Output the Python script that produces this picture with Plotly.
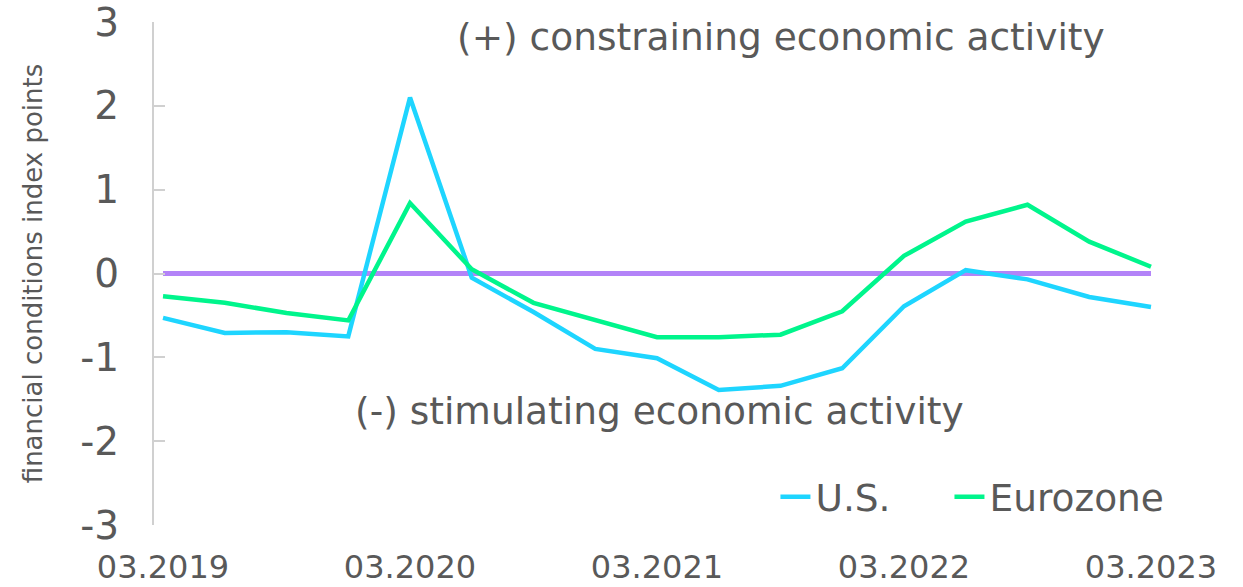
import plotly.graph_objects as go

quarters = ["03.2019", "06.2019", "09.2019", "12.2019",
            "03.2020", "06.2020", "09.2020", "12.2020",
            "03.2021", "06.2021", "09.2021", "12.2021",
            "03.2022", "06.2022", "09.2022", "12.2022",
            "03.2023"]
us = [-0.53, -0.71, -0.70, -0.75, 2.10, -0.05, -0.46, -0.90, -1.01,
      -1.39, -1.34, -1.13, -0.39, 0.04, -0.07, -0.28, -0.40]
eurozone = [-0.27, -0.35, -0.47, -0.56, 0.84, 0.05, -0.35, -0.56, -0.76,
            -0.76, -0.73, -0.45, 0.21, 0.62, 0.82, 0.38, 0.08]
neutral = [0.0] * len(quarters)
x_tick_labels = ["03.2019", "03.2020", "03.2021", "03.2022", "03.2023"]
y_tick_values = [-3, -2, -1, 0, 1, 2, 3]
y_tick_labels = ["-3", "-2", "-1", "0", "1", "2", "3"]

FONT = "DejaVu Sans"
GREY = "#595959"
idx = list(range(len(quarters)))

fig = go.Figure()
fig.add_trace(go.Scatter(x=idx, y=neutral, mode="lines", showlegend=False,
                         line=dict(color="#b383f8", width=5), hoverinfo="skip"))
fig.add_trace(go.Scatter(x=idx, y=us, mode="lines", name="U.S.", legend="legend",
                         line=dict(color="#1ed5ff", width=4.5)))
fig.add_trace(go.Scatter(x=idx, y=eurozone, mode="lines", name="Eurozone", legend="legend2",
                         line=dict(color="#00f58c", width=4.5)))

fig.add_annotation(x=4.73, y=2.82, xref="x", yref="y", xanchor="left", yanchor="middle",
                   text="(+) constraining economic activity", showarrow=False,
                   font=dict(family=FONT, size=37.5, color=GREY))
fig.add_annotation(x=3.08, y=-1.64, xref="x", yref="y", xanchor="left", yanchor="middle",
                   text="(-) stimulating economic activity", showarrow=False,
                   font=dict(family=FONT, size=37.5, color=GREY))

legend_style = dict(orientation="h", y=0.0557, xanchor="left", yanchor="middle",
                    font=dict(size=37.5, color=GREY), bgcolor="rgba(0,0,0,0)",
                    itemwidth=30)

fig.update_layout(
    width=1243, height=587,
    margin=dict(l=154, r=63, t=22, b=62, autoexpand=False),
    paper_bgcolor="white", plot_bgcolor="white",
    font=dict(family=FONT, color=GREY),
    xaxis=dict(range=[-0.146, 16.47], tickmode="array",
               tickvals=[quarters.index(t) for t in x_tick_labels],
               ticktext=x_tick_labels, showgrid=False, zeroline=False,
               showline=False, ticks="", ticklabelstandoff=20, automargin=False,
               ticklabeloverflow="allow",
               tickfont=dict(size=32, color=GREY)),
    yaxis=dict(range=[-3, 3], tickmode="array", tickvals=y_tick_values,
               ticktext=y_tick_labels, automargin=False, ticklabeloverflow="allow",
               showgrid=False, zeroline=False, showline=True,
               linecolor="#d0d0d0", linewidth=2, ticks="inside", ticklen=11,
               tickcolor="#d0d0d0", tickwidth=2, ticklabelstandoff=25,
               tickfont=dict(size=39, color=GREY),
               title=dict(text="financial conditions index points", standoff=30,
                          font=dict(size=26, color=GREY))),
    legend=dict(x=0.6057, **legend_style),
    legend2=dict(x=0.7753, **legend_style),
    showlegend=True,
)

fig.write_html("out.html")
